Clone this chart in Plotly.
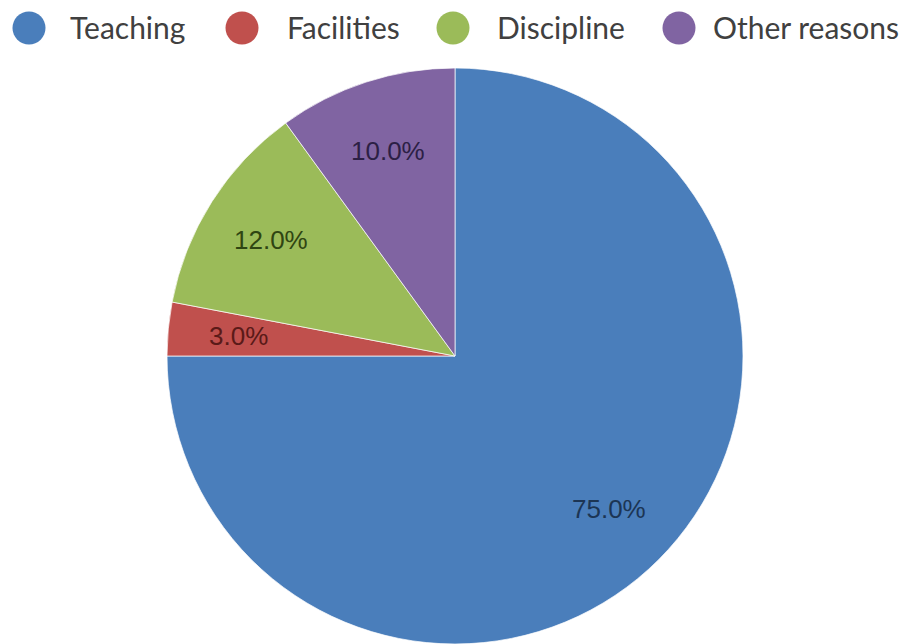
import math
import plotly.graph_objects as go

categories = ["Teaching", "Facilities", "Discipline", "Other reasons"]
values = [75.0, 3.0, 12.0, 10.0]
slice_colors = ["#4A7EBB", "#C0504D", "#9BBB59", "#8064A2"]
label_colors = ["#1C3554", "#5A1A18", "#2F4512", "#2C1F45"]

# layout constants (pixels in the browser page)
W, H = 902, 644
OFF = 0  # body margin removed below
R = 290
CX, CY = 455 - OFF, 358 - OFF
m_l, m_t = CX - R, CY - R
m_r = W - (CX + R)
m_b = max(H - (CY + R), 0)
PW = W - m_l - m_r
PH = H - m_t - m_b

# legend item layout: circle centre x and text left x (page pixels)
LEG_Y = 28
LEG_CIRCLE_X = [29, 242, 453, 679]
LEG_TEXT_X = [68, 285, 495, 711]
LEG_D = 33


def px_to_paper_x(px):
    return (px - OFF - m_l) / PW


def px_to_paper_y(py):
    return 1 - (py - OFF - m_t) / PH


fig = go.Figure()
fig.add_trace(go.Pie(
    labels=categories,
    values=values,
    sort=False,
    direction="clockwise",
    rotation=0,
    marker=dict(colors=slice_colors, line=dict(color="rgba(255,255,255,0.7)", width=1)),
    textinfo="none",
    hoverinfo="label+percent",
    showlegend=False,
))

# slice labels placed along each slice bisector
total = sum(values)
cum = 0.0
ann = []
frac = 0.75
for v, c in zip(values, label_colors):
    mid = (cum + v / 2) / total * 2 * math.pi
    cum += v
    ann.append(dict(
        x=0.5 + 0.5 * frac * math.sin(mid),
        y=0.5 + 0.5 * frac * math.cos(mid),
        xref="paper", yref="paper",
        text=f"{v / total * 100:.1f}%",
        showarrow=False,
        font=dict(family="Liberation Sans, Arial", size=26, color=c),
        xanchor="center", yanchor="middle",
    ))

# legend built from categories and colours
shapes = []
for name, col, cx, tx in zip(categories, slice_colors, LEG_CIRCLE_X, LEG_TEXT_X):
    shapes.append(dict(
        type="circle", xref="paper", yref="paper",
        xsizemode="pixel", ysizemode="pixel",
        xanchor=px_to_paper_x(cx), yanchor=px_to_paper_y(LEG_Y),
        x0=-LEG_D / 2, x1=LEG_D / 2, y0=-LEG_D / 2, y1=LEG_D / 2,
        fillcolor=col, line=dict(width=0),
    ))
    ann.append(dict(
        x=px_to_paper_x(tx), y=px_to_paper_y(LEG_Y - 1),
        xref="paper", yref="paper",
        text=name, showarrow=False,
        font=dict(family="Lato, Open Sans", size=30, color="#404040"),
        xanchor="left", yanchor="middle",
    ))

fig.update_layout(
    width=W, height=H,
    margin=dict(l=m_l, r=m_r, t=m_t, b=m_b, pad=0),
    paper_bgcolor="white",
    plot_bgcolor="white",
    annotations=ann,
    shapes=shapes,
)

fig.write_html(
    "out.html",
    config={"displayModeBar": False},
    post_script="document.body.style.margin='0px';document.body.style.overflow='hidden';",
)
